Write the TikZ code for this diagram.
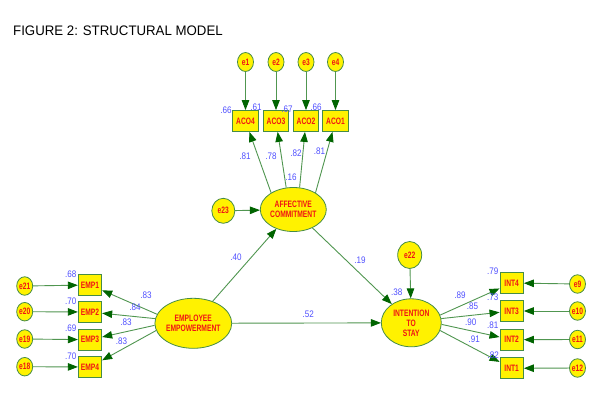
\documentclass[tikz,border=0pt]{standalone}
\usepackage{fontspec}
\setmainfont{Liberation Sans}
\newfontfamily\nodefont[FakeStretch=0.72]{Liberation Sans}
\newfontfamily\labfont[FakeStretch=0.85]{Liberation Sans}
\newfontfamily\titlefont[FakeStretch=0.96]{Liberation Sans}
\usetikzlibrary{shapes.geometric,arrows.meta}
\definecolor{bord}{RGB}{70,140,70}
\definecolor{linegreen}{RGB}{80,150,80}
\definecolor{arrgreen}{RGB}{0,100,0}
\definecolor{nodered}{RGB}{240,20,20}
\definecolor{coefblue}{RGB}{80,80,255}
\tikzset{
  latent/.style={ellipse, draw=bord, fill=yellow, line width=0.8pt, inner sep=0pt, align=center,
    font=\nodefont\bfseries\fontsize{9.3}{10}\selectfont, text=nodered},
  errv/.style={latent, minimum width=16pt, minimum height=19pt},
  obsv/.style={rectangle, draw=bord, fill=yellow, line width=0.8pt, minimum width=23.5pt, minimum height=21pt,
    inner sep=0pt, font=\nodefont\bfseries\fontsize{9.3}{10}\selectfont, text=nodered},
  arr/.style={draw=linegreen, line width=0.9pt, -{Triangle[length=10pt,width=7.5pt,color=arrgreen]}},
  coef/.style={text=coefblue, font=\labfont\fontsize{9.5}{10}\selectfont, inner sep=0pt}
}
\begin{document}
\begin{tikzpicture}[x=1pt,y=-1pt]
\fill[white] (0,0) rectangle (598,410);
\useasboundingbox (0,0) rectangle (598,410);
\node[anchor=base west, inner sep=0pt, font=\titlefont\fontsize{13.8}{15}\selectfont] (title) at (13,35) {FIGURE 2: STRUCTURAL MODEL};

% Affective commitment block
\node[latent, minimum width=66pt, minimum height=44pt] (ac) at (293.3,209.5) {AFFECTIVE\\COMMITMENT};
\node[errv, minimum width=23pt, minimum height=25pt] (e23) at (223.3,210.8) {e23};
\node[obsv, minimum width=25.5pt] (aco4) at (245.5,121) {ACO4};
\node[obsv, minimum width=25.5pt] (aco3) at (276,121) {ACO3};
\node[obsv, minimum width=25.5pt] (aco2) at (306,121) {ACO2};
\node[obsv, minimum width=25.5pt] (aco1) at (335.5,121) {ACO1};
\node[errv] (e1) at (245.5,62) {e1};
\node[errv] (e2) at (276,62) {e2};
\node[errv] (e3) at (306,62) {e3};
\node[errv] (e4) at (335.5,62) {e4};

% Employee empowerment block
\node[latent, minimum width=66.7pt, minimum height=50pt] (ee) at (193.3,323.3) {EMPLOYEE\\EMPOWERMENT};
\node[obsv] (emp1) at (90,285) {EMP1};
\node[obsv] (emp2) at (90,312) {EMP2};
\node[obsv] (emp3) at (90,339.7) {EMP3};
\node[obsv] (emp4) at (90,367) {EMP4};
\node[errv, minimum height=18.5pt] (e21) at (24.7,286) {e21};
\node[errv, minimum height=18.5pt] (e20) at (24.7,311.7) {e20};
\node[errv, minimum height=18.5pt] (e19) at (24.7,339) {e19};
\node[errv, minimum height=18.5pt] (e18) at (24.7,366.7) {e18};

% Intention to stay block
\node[latent, minimum width=60pt, minimum height=48pt] (it) at (411.3,322.8) {INTENTION\\TO\\STAY};
\node[errv, minimum width=24pt, minimum height=27pt] (e22) at (409.7,255) {e22};
\node[obsv] (int4) at (511.7,283) {INT4};
\node[obsv] (int3) at (511.7,311) {INT3};
\node[obsv] (int2) at (511.7,339.7) {INT2};
\node[obsv] (int1) at (511.7,368.3) {INT1};
\node[errv, minimum height=18.5pt] (e9) at (577.5,284) {e9};
\node[errv, minimum height=18.5pt] (e10) at (577.5,311) {e10};
\node[errv, minimum height=18.5pt] (e11) at (577.5,339.5) {e11};
\node[errv, minimum height=18.5pt] (e12) at (577.5,368) {e12};

% connectors
\draw[arr] (e1) -- (aco4);
\draw[arr] (e2) -- (aco3);
\draw[arr] (e3) -- (aco2);
\draw[arr] (e4) -- (aco1);
\draw[arr] (ac.143) -- (aco4);
\draw[arr] (ac.108) -- (aco3);
\draw[arr] (ac.74) -- (aco2);
\draw[arr] (ac.37) -- (aco1);
\draw[arr] (e23) -- (ac);

\draw[arr] (e21) -- (emp1);
\draw[arr] (e20) -- (emp2);
\draw[arr] (e19) -- (emp3);
\draw[arr] (e18) -- (emp4);
\draw[arr] (ee.166) -- (emp1);
\draw[arr] (ee.173) -- (emp2);
\draw[arr] (ee.183) -- (emp3);
\draw[arr] (ee.191) -- (emp4);

\draw[arr] (e9) -- (int4);
\draw[arr] (e10) -- (int3);
\draw[arr] (e11) -- (int2);
\draw[arr] (e12) -- (int1);
\draw[arr] (it.15) -- (int4);
\draw[arr] (it.8) -- (int3);
\draw[arr] (it.-3) -- (int2);
\draw[arr] (it.-15) -- (int1);
\draw[arr] (e22) -- (it);

\draw[arr] (ee) -- (ac);
\draw[arr] (ee) -- (it);
\draw[arr] (ac) -- (it);

% coefficients
\node[coef] (r1) at (226,110) {.66};
\node[coef] (r2) at (256,107.5) {.61};
\node[coef] (r3) at (287,109) {.67};
\node[coef] (r4) at (316,107) {.66};
\node[coef] (l1) at (245,156) {.81};
\node[coef] (l2) at (271,156) {.78};
\node[coef] (l3) at (296,153) {.82};
\node[coef] (l4) at (319.5,151) {.81};
\node[coef] (rac) at (291,177) {.16};

\node[coef] (r5) at (70.7,274) {.68};
\node[coef] (r6) at (70.7,301) {.70};
\node[coef] (r7) at (70.7,328.5) {.69};
\node[coef] (r8) at (70.7,356) {.70};
\node[coef] (l5) at (146,295) {.83};
\node[coef] (l6) at (135,307.7) {.84};
\node[coef] (l7) at (126,322.7) {.83};
\node[coef] (l8) at (121.5,341.5) {.83};

\node[coef] (r9) at (492.7,271) {.79};
\node[coef] (r10) at (492.7,297.5) {.73};
\node[coef] (r11) at (492.7,325) {.81};
\node[coef] (r12) at (493.3,355.7) {.82};
\node[coef] (l9) at (460,295) {.89};
\node[coef] (l10) at (472.5,306.7) {.85};
\node[coef] (l11) at (470.7,322.7) {.90};
\node[coef] (l12) at (474.3,339) {.91};
\node[coef] (rit) at (396.7,292.7) {.38};

\node[coef] (p1) at (236,257.7) {.40};
\node[coef] (p2) at (308.3,314.3) {.52};
\node[coef] (p3) at (360,260.7) {.19};
\end{tikzpicture}
\end{document}
